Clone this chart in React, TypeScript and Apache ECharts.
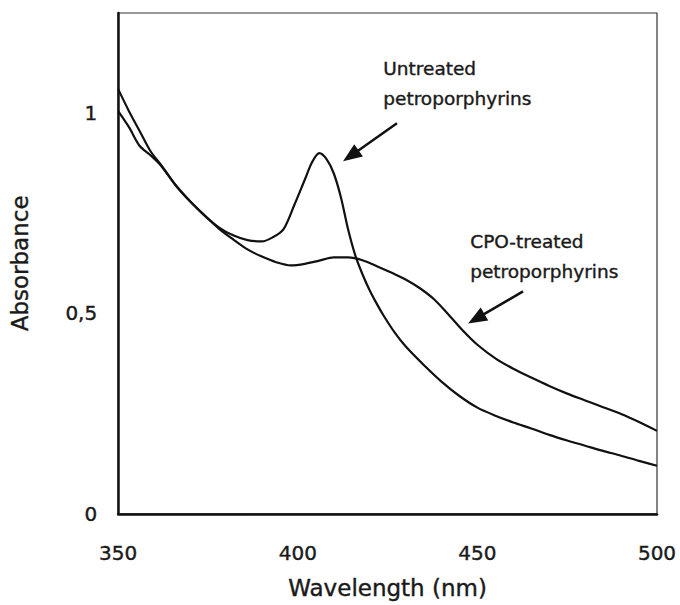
import { useEffect, useRef } from "react";
import * as echarts from "echarts";

// Absorption spectra of petroporphyrins, before and after CPO treatment
const untreatedWavelength = [
  350, 353, 356, 359, 362, 366, 370, 374, 378, 382, 386, 390, 393, 396, 399, 402, 404, 406, 408, 410,
  412, 414, 416, 418, 420, 422, 424, 427, 430, 435, 440, 445, 450, 455, 460, 465, 470, 475, 480, 485,
  490, 495, 500,
];
const untreatedAbsorbance = [
  1.06, 1.005, 0.955, 0.905, 0.87, 0.82, 0.78, 0.745, 0.715, 0.695, 0.683, 0.68, 0.69, 0.71, 0.77, 0.835,
  0.878, 0.9, 0.885, 0.85, 0.79, 0.71, 0.645, 0.598, 0.558, 0.524, 0.493, 0.452, 0.418, 0.372, 0.33, 0.294,
  0.265, 0.245, 0.228, 0.213, 0.197, 0.183, 0.17, 0.157, 0.145, 0.132, 0.12,
];

const cpoWavelength = [
  350, 353, 356, 359, 362, 366, 370, 374, 378, 382, 386, 390, 394, 398, 402, 406, 410, 414, 418, 422,
  426, 430, 434, 438, 442, 446, 450, 455, 460, 465, 470, 475, 480, 485, 490, 495, 500,
];
const cpoAbsorbance = [
  1.005, 0.965, 0.918, 0.895, 0.868, 0.82, 0.78, 0.745, 0.712, 0.685, 0.66, 0.642, 0.628, 0.62, 0.624, 0.632,
  0.64, 0.64, 0.633, 0.618, 0.602, 0.585, 0.563, 0.535, 0.497, 0.457, 0.422, 0.388, 0.362, 0.34, 0.319, 0.3,
  0.283, 0.266, 0.249, 0.229, 0.207,
];

const xTickValues = [350, 400, 450, 500];
const yTickValues = [0, 0.5, 1];
const yTickLabels = ["0", "0,5", "1"];

// Callouts, anchored in data units (wavelength, absorbance)
const callouts = [
  {
    lines: ["Untreated", "petroporphyrins"],
    textAt: [423.8, 1.1125],
    tail: [427.6, 0.975],
    tip: [412.6, 0.88],
  },
  {
    lines: ["CPO-treated", "petroporphyrins"],
    textAt: [448.0, 0.68],
    tail: [462.7, 0.555],
    tip: [447.4, 0.475],
  },
];

const FONT = "'DejaVu Sans', Verdana, sans-serif";
const INK = "#1a1a1a";

function pairs(xs: number[], ys: number[]) {
  return xs.map((x, i) => [x, ys[i]]);
}

export default function App() {
  const ref = useRef<HTMLDivElement>(null);

  useEffect(() => {
    document.body.style.margin = "0";
    if (!ref.current) return;
    const chart = echarts.init(ref.current, null, { renderer: "svg" });

    const heavyText = { textBorderColor: INK, textBorderWidth: 0.4 };

    chart.setOption({
      animation: false,
      backgroundColor: "#ffffff",
      grid: {
        left: 118,
        right: 23,
        top: 13,
        bottom: 90,
        show: true,
        borderColor: "#333",
        borderWidth: 1.2,
      },
      xAxis: {
        type: "value",
        min: 350,
        max: 500,
        interval: 50,
        name: "Wavelength (nm)",
        nameLocation: "middle",
        nameGap: 63,
        nameTextStyle: { fontFamily: FONT, fontSize: 23, color: INK, ...heavyText },
        axisLine: { show: true, lineStyle: { color: "#111", width: 2.5 } },
        axisTick: { show: false },
        splitLine: { show: false },
        axisLabel: {
          margin: 29,
          fontFamily: FONT,
          fontSize: 20,
          color: INK,
          ...heavyText,
          formatter: (v: number) => (xTickValues.includes(v) ? String(v) : ""),
        },
      },
      yAxis: {
        type: "value",
        min: 0,
        max: 1.25,
        interval: 0.5,
        name: "Absorbance",
        nameLocation: "middle",
        nameRotate: 90,
        nameGap: 87,
        nameTextStyle: { fontFamily: FONT, fontSize: 23, color: INK, ...heavyText },
        axisLine: { show: true, lineStyle: { color: "#111", width: 2.5 } },
        axisTick: { show: false },
        splitLine: { show: false },
        axisLabel: {
          margin: 21,
          fontFamily: FONT,
          fontSize: 20,
          color: INK,
          ...heavyText,
          showMaxLabel: false,
          formatter: (v: number) => {
            const i = yTickValues.findIndex((t) => Math.abs(t - v) < 1e-9);
            return i >= 0 ? yTickLabels[i] : "";
          },
        },
      },
      series: [
        {
          name: "Untreated petroporphyrins",
          type: "line",
          data: pairs(untreatedWavelength, untreatedAbsorbance),
          showSymbol: false,
          smooth: 0.3,
          lineStyle: { color: "#111", width: 2.2 },
        },
        {
          name: "CPO-treated petroporphyrins",
          type: "line",
          data: pairs(cpoWavelength, cpoAbsorbance),
          showSymbol: false,
          smooth: 0.3,
          lineStyle: { color: "#111", width: 2.2 },
        },
      ],
    });

    // Callout texts and arrows, placed through the grid's own coordinate system
    const toPx = (p: number[]) => chart.convertToPixel({ gridIndex: 0 }, p) as number[];
    const elements: any[] = [];
    callouts.forEach((c) => {
      const [tx, ty] = toPx(c.textAt);
      c.lines.forEach((line, k) => {
        elements.push({
          type: "text",
          x: tx,
          y: ty + k * 30,
          style: {
            text: line,
            fontFamily: FONT,
            fontSize: 18.5,
            fill: INK,
            stroke: INK,
            lineWidth: 0.4,
            verticalAlign: "middle",
            align: "left",
          },
        });
      });
      const [ax, ay] = toPx(c.tail);
      const [bx, by] = toPx(c.tip);
      const dx = bx - ax;
      const dy = by - ay;
      const len = Math.hypot(dx, dy);
      const ux = dx / len;
      const uy = dy / len;
      const headLen = 19;
      const headHalf = 7.5;
      const baseX = bx - ux * headLen;
      const baseY = by - uy * headLen;
      elements.push({
        type: "line",
        shape: { x1: ax, y1: ay, x2: baseX + ux * 2, y2: baseY + uy * 2 },
        style: { stroke: "#111", lineWidth: 2.5 },
      });
      elements.push({
        type: "polygon",
        shape: {
          points: [
            [bx, by],
            [baseX - uy * headHalf, baseY + ux * headHalf],
            [baseX + uy * headHalf, baseY - ux * headHalf],
          ],
        },
        style: { fill: "#111" },
      });
    });
    chart.setOption({ graphic: elements });

    return () => chart.dispose();
  }, []);

  return <div ref={ref} style={{ width: 680, height: 605 }} />;
}
